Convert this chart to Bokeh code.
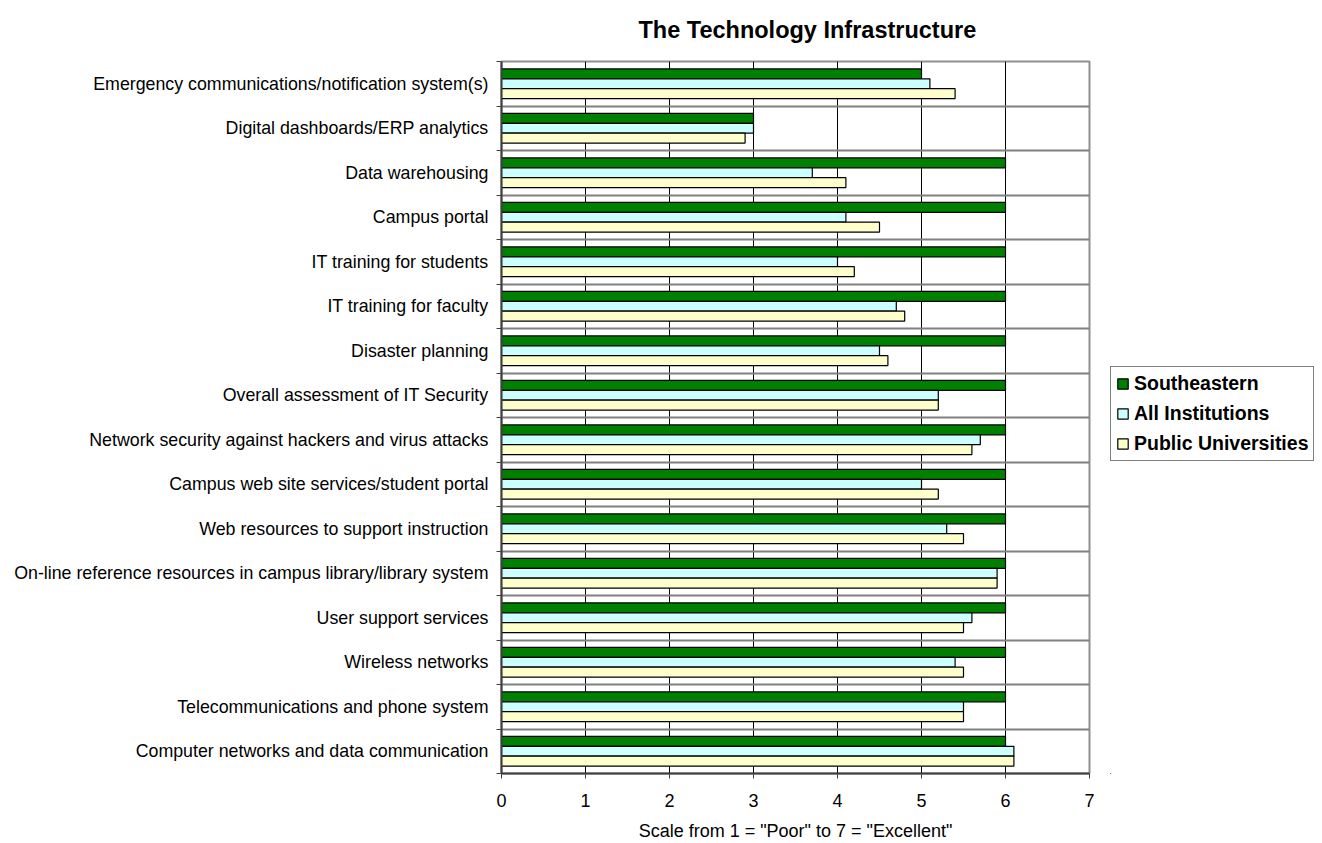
import numpy as np
from bokeh.plotting import figure
from bokeh.layouts import row
from bokeh.models import (ColumnDataSource, FixedTicker, Range1d, Legend, LegendItem)
from bokeh.embed import file_html
from bokeh.resources import INLINE

# Data (top -> bottom, as shown in the chart)
categories = [
    "Emergency communications/notification system(s)",
    "Digital dashboards/ERP analytics",
    "Data warehousing",
    "Campus portal",
    "IT training for students",
    "IT training for faculty",
    "Disaster planning",
    "Overall assessment of IT Security",
    "Network security against hackers and virus attacks",
    "Campus web site services/student portal",
    "Web resources to support instruction",
    "On-line reference resources in campus library/library system",
    "User support services",
    "Wireless networks",
    "Telecommunications and phone system",
    "Computer networks and data communication",
]
southeastern = [5.0, 3.0, 6.0, 6.0, 6.0, 6.0, 6.0, 6.0, 6.0, 6.0, 6.0, 6.0, 6.0, 6.0, 6.0, 6.0]
all_institutions = [5.1, 3.0, 3.7, 4.1, 4.0, 4.7, 4.5, 5.2, 5.7, 5.0, 5.3, 5.9, 5.6, 5.4, 5.5, 6.1]
public_universities = [5.4, 2.9, 4.1, 4.5, 4.2, 4.8, 4.6, 5.2, 5.6, 5.2, 5.5, 5.9, 5.5, 5.5, 5.5, 6.1]
series_names = ["Southeastern", "All Institutions", "Public Universities"]
series_colors = ["#008000", "#CCFFFF", "#FFFFCC"]
x_ticks = [0, 1, 2, 3, 4, 5, 6, 7]

FONT = "Liberation Sans"
n = len(categories)
pos = np.array([n - 1 - i for i in range(n)], dtype=float)
bar_h = 1.0 / 4.5
offsets = [bar_h, 0.0, -bar_h]

p = figure(width=1110, height=843, output_backend="svg", toolbar_location=None,
           x_range=Range1d(0, 7), y_range=Range1d(-0.5, n - 0.5),
           min_border_left=501, min_border_right=21, min_border_top=61, min_border_bottom=69)

p.title.text = "The Technology Infrastructure"
p.title.align = "left"
p.title.offset = 137
p.title.vertical_align = "top"
p.title.text_font = FONT
p.title.text_font_size = "23.5px"
p.title.text_font_style = "bold"
p.title.text_color = "black"
p.title.standoff = 33

renderers = []
for vals, off, col in zip([southeastern, all_institutions, public_universities], offsets, series_colors):
    src = ColumnDataSource(dict(y=pos + off, right=vals))
    r = p.hbar(y="y", right="right", left=0, height=bar_h, source=src,
               fill_color=col, line_color="black", line_width=1.2)
    renderers.append(r)

# axes
p.xaxis.ticker = FixedTicker(ticks=x_ticks)
p.xaxis.major_tick_out = 5
p.xaxis.major_tick_in = 0
p.xaxis.minor_tick_line_color = None
p.xaxis.major_label_standoff = 15
p.xaxis.major_label_text_font = FONT
p.xaxis.major_label_text_font_size = "18px"
p.xaxis.major_label_text_color = "black"
p.xaxis.axis_line_color = "#404040"
p.xaxis.axis_line_width = 2
p.xaxis.major_tick_line_color = "#404040"
p.xaxis.axis_label = 'Scale from 1 = "Poor" to 7 = "Excellent"'
p.xaxis.axis_label_text_font = FONT
p.xaxis.axis_label_text_font_size = "18px"
p.xaxis.axis_label_text_font_style = "normal"
p.xaxis.axis_label_text_color = "black"
p.xaxis.axis_label_standoff = 11

bounds = [i - 0.5 for i in range(n + 1)]
p.yaxis.ticker = FixedTicker(ticks=list(pos), minor_ticks=bounds)
p.yaxis.major_label_overrides = {float(pos[i]): categories[i] for i in range(n)}
p.yaxis.major_tick_line_color = None
p.yaxis.major_tick_out = 0
p.yaxis.major_tick_in = 0
p.yaxis.minor_tick_out = 5
p.yaxis.minor_tick_in = 0
p.yaxis.minor_tick_line_color = "#404040"
p.yaxis.major_label_standoff = 8
p.yaxis.major_label_text_font = FONT
p.yaxis.major_label_text_font_size = "17.8px"
p.yaxis.major_label_text_color = "black"
p.yaxis.axis_line_color = "#404040"
p.yaxis.axis_line_width = 2

# grids
p.xgrid.ticker = FixedTicker(ticks=x_ticks[1:-1])
p.xgrid.grid_line_color = "black"
p.xgrid.grid_line_width = 1
p.ygrid.ticker = FixedTicker(ticks=bounds)
p.ygrid.grid_line_color = "#808080"
p.ygrid.grid_line_width = 2

p.outline_line_color = "#909090"
p.outline_line_width = 2
p.background_fill_color = "white"
p.border_fill_color = "white"

# legend panel (separate canvas to the right of the chart)
pl = figure(width=212, height=843, output_backend="svg", toolbar_location=None,
            x_range=Range1d(0, 1), y_range=Range1d(0, 1),
            x_axis_type=None, y_axis_type=None,
            min_border_left=0, min_border_right=0, min_border_top=0, min_border_bottom=0)
pl.outline_line_color = None
pl.xgrid.visible = False
pl.ygrid.visible = False
pl.background_fill_color = "white"
pl.border_fill_color = "white"

# legend swatches: one bar per series placed outside the visible range
legend_rs = []
for col in series_colors:
    legend_rs.append(pl.hbar(y=[-10], right=[-10], left=-11, height=0.1,
                             fill_color=col, line_color="black", line_width=1.2))

legend = Legend(items=[LegendItem(label=nm, renderers=[r]) for nm, r in zip(series_names, legend_rs)],
                location=(0, 312))
legend.label_text_font = FONT
legend.label_text_font_size = "19.5px"
legend.label_text_font_style = "bold"
legend.label_text_color = "black"
legend.border_line_color = "black"
legend.border_line_width = 1
legend.background_fill_color = "white"
legend.background_fill_alpha = 1
legend.glyph_width = 13
legend.glyph_height = 13
legend.label_height = 20
legend.label_standoff = 5
legend.spacing = 7
legend.padding = 5
legend.margin = 0
pl.add_layout(legend, "center")

layout = row(p, pl)
open("out.html", "w").write(file_html(layout, INLINE))
